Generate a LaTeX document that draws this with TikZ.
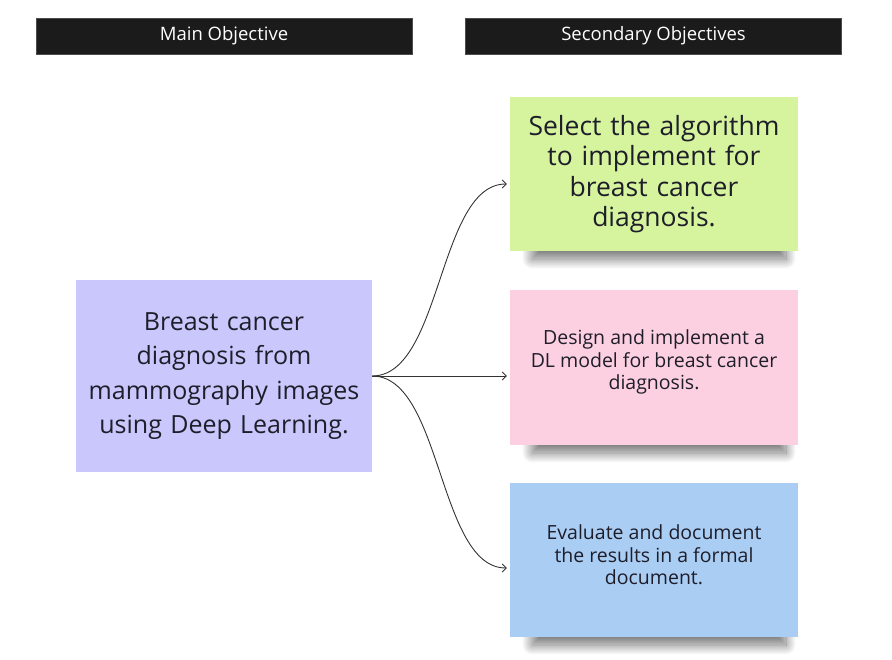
\documentclass[tikz,border=0pt]{standalone}
\usepackage{fontspec}
\setmainfont{Open Sans}
\usetikzlibrary{shadows.blur,arrows.meta}
\definecolor{hdr}{HTML}{1B1B1B}
\definecolor{mainc}{HTML}{C9C7FC}
\definecolor{greenc}{HTML}{D6F49D}
\definecolor{pinkc}{HTML}{FDD0E1}
\definecolor{bluec}{HTML}{AACDF4}
\definecolor{txt}{HTML}{1E1E2A}
\tikzset{
  header/.style={fill=hdr, draw=black!70, line width=0.4pt, minimum width=376pt, minimum height=36pt, inner sep=0pt, text=white, font=\fontsize{18.5}{20}\selectfont},
  mainbox/.style={fill=mainc, minimum width=296pt, minimum height=192pt, inner sep=0pt, text=txt, align=center, text width=290pt},
  note/.style={minimum width=288pt, minimum height=154pt, inner sep=0pt, text=txt, align=center, text width=280pt},
  notetext/.style={inner sep=0pt, text=txt, align=center, font=\fontsize{19.5}{22.5}\selectfont},
  noteshadow/.style={fill=white, blur shadow={shadow xshift=0pt, shadow yshift=-9pt, shadow blur radius=10pt, shadow opacity=55, shadow blur steps=20}},
  conn/.style={draw=black!80, line width=0.9pt, -{Straight Barb[length=4pt,width=8pt]}},
}
\begin{document}
\begin{tikzpicture}[x=1pt,y=-1pt]
\useasboundingbox (0,0) rectangle (892,660);
\node[header] (h1) at (224,36) {Main Objective};
\node[header] (h2) at (653.5,36) {Secondary Objectives};

% shadows
\fill[noteshadow] (532,200) rectangle (786,250);
\fill[noteshadow] (532,394) rectangle (786,444);
\fill[noteshadow] (532,586) rectangle (786,636);

\node[mainbox, font=\fontsize{25}{34.5}\selectfont] (m) at (224,376) {Breast cancer\\diagnosis from\\mammography images\\using Deep Learning.};
\node[note, fill=greenc, font=\fontsize{26.5}{30.5}\selectfont] (g) at (654,174) {Select the algorithm\\to implement for\\breast cancer\\diagnosis.};
\node[note, fill=pinkc] (p) at (654,367.5) {};
\node[notetext] (pt) at (654,362) {Design and implement a\\DL model for breast cancer\\diagnosis.};
\node[note, fill=bluec] (b) at (654,560) {};
\node[notetext] (bt) at (654,555) {Evaluate and document\\the results in a formal\\document.};

\coordinate (s) at (m.east);
\draw[conn] (s) .. controls (442,376) and (438,184) .. ([xshift=-3pt,yshift=-10pt]g.west);
\draw[conn] (s) -- ([xshift=-3pt]p.west |- s);
\draw[conn] (s) .. controls (442,376) and (438,568) .. ([xshift=-3pt]b.west |- 0,568);
\end{tikzpicture}
\end{document}
